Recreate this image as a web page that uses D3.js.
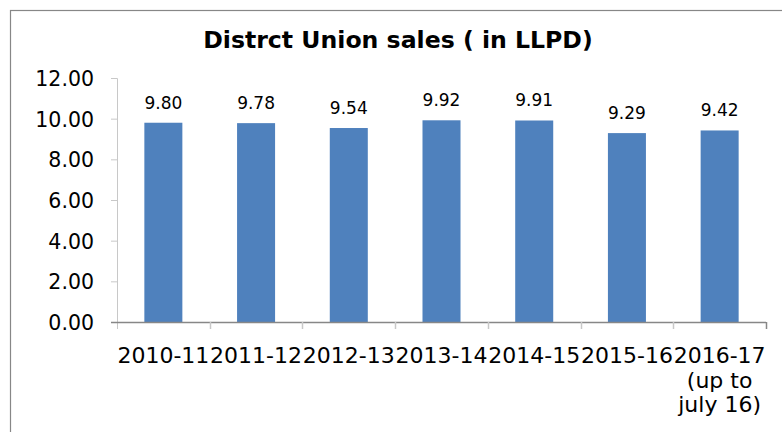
<!DOCTYPE html>
<html>
<head>
<meta charset="utf-8">
<script src="https://cdn.jsdelivr.net/npm/d3@7"></script>
<style>
	body { margin: 0; background: #fff; }
	svg { display: block; font-family: 'DejaVu Sans', Verdana, sans-serif; }
</style>
</head>
<body>
<svg id="chart" width="782" height="432"></svg>
<script>
'use strict'

var title = 'Distrct Union sales ( in LLPD)';
var years = ['2010-11', '2011-12', '2012-13', '2013-14', '2014-15', '2015-16', '2016-17'];
var yearNotes = ['', '', '', '', '', '', '(up to|july 16)'];
var sales = [9.80, 9.78, 9.54, 9.92, 9.91, 9.29, 9.42];
var yTicks = [0, 2, 4, 6, 8, 10, 12];

function draw(){
	var svg = d3.select('#chart');
	var left = 117, right = 766, top = 78, bottom = 322;

	// outer frame, runs off the right and bottom edges like the source
	svg.append('rect')
		.attr('x', 10.5).attr('y', 10.5)
		.attr('width', 900).attr('height', 600)
		.attr('fill', 'none')
		.attr('stroke', '#878787')
		.attr('stroke-width', 1.2);

	svg.append('text')
		.attr('x', 398).attr('y', 48)
		.attr('text-anchor', 'middle')
		.attr('font-size', 23.6)
		.attr('font-weight', 'bold')
		.attr('fill', '#000')
		.text(title);

	var x = d3.scaleBand().domain(years).range([left, right]).paddingInner(0).paddingOuter(0);
	var y = d3.scaleLinear().domain([0, 12]).range([bottom, top]);

	var barW = x.bandwidth() * 0.41;

	// y axis
	var yAxis = svg.append('g')
		.attr('transform', 'translate(' + left + ',0)')
		.call(d3.axisLeft(y).tickValues(yTicks).tickFormat(d3.format('.2f')).tickSize(6).tickPadding(17));
	yAxis.select('.domain').attr('stroke', '#c8c8c8').attr('d', 'M-6,' + (top + 0.5) + 'H0.5V' + (bottom + 7));
	yAxis.selectAll('.tick line').attr('stroke', '#c8c8c8');
	yAxis.selectAll('.tick text')
		.attr('font-size', 20.5)
		.attr('font-family', "'DejaVu Sans', Verdana, sans-serif")
		.attr('fill', '#000')
		.attr('dy', '0.36em');

	// bars
	svg.append('g').selectAll('rect')
		.data(sales)
		.enter().append('rect')
		.attr('x', function(d, i){ return x(years[i]) + (x.bandwidth() - barW) / 2; })
		.attr('y', function(d){ return y(d); })
		.attr('width', barW)
		.attr('height', function(d){ return y(0) - y(d); })
		.attr('fill', '#4f81bd');

	// value labels
	svg.append('g').selectAll('text')
		.data(sales)
		.enter().append('text')
		.attr('x', function(d, i){ return x(years[i]) + x.bandwidth() / 2; })
		.attr('y', function(d){ return y(d) - 14; })
		.attr('text-anchor', 'middle')
		.attr('font-size', 17)
		.attr('fill', '#000')
		.text(function(d){ return d.toFixed(2); });

	// x axis
	var xAxis = svg.append('g')
		.attr('transform', 'translate(0,' + bottom + ')');
	xAxis.append('path')
		.attr('d', 'M' + (left - 6) + ',0.5H' + right)
		.attr('stroke', '#878787')
		.attr('stroke-width', 1.5)
		.attr('fill', 'none');
	var ticks = d3.range(1, years.length + 1).map(function(i){ return left + i * x.bandwidth(); });
	xAxis.selectAll('line.tk')
		.data(ticks)
		.enter().append('line')
		.attr('class', 'tk')
		.attr('x1', function(d){ return Math.round(d) + 0.5; })
		.attr('x2', function(d){ return Math.round(d) + 0.5; })
		.attr('y1', 0).attr('y2', 7)
		.attr('stroke', function(d, i){ return i === ticks.length - 1 ? '#878787' : '#c8c8c8'; })
		.attr('stroke-width', 1.5);

	var labels = xAxis.selectAll('text.cat')
		.data(years)
		.enter().append('text')
		.attr('class', 'cat')
		.attr('x', function(d){ return x(d) + x.bandwidth() / 2; })
		.attr('y', 41)
		.attr('text-anchor', 'middle')
		.attr('font-size', 22)
		.attr('fill', '#000');
	labels.append('tspan').text(function(d){ return d; });
	labels.each(function(d, i){
		if(!yearNotes[i]) return;
		var t = d3.select(this);
		yearNotes[i].split('|').forEach(function(line){
			t.append('tspan')
				.attr('x', x(d) + x.bandwidth() / 2)
				.attr('dy', 24.5)
				.text(line);
		});
	});
}

draw();
</script>
</body>
</html>
